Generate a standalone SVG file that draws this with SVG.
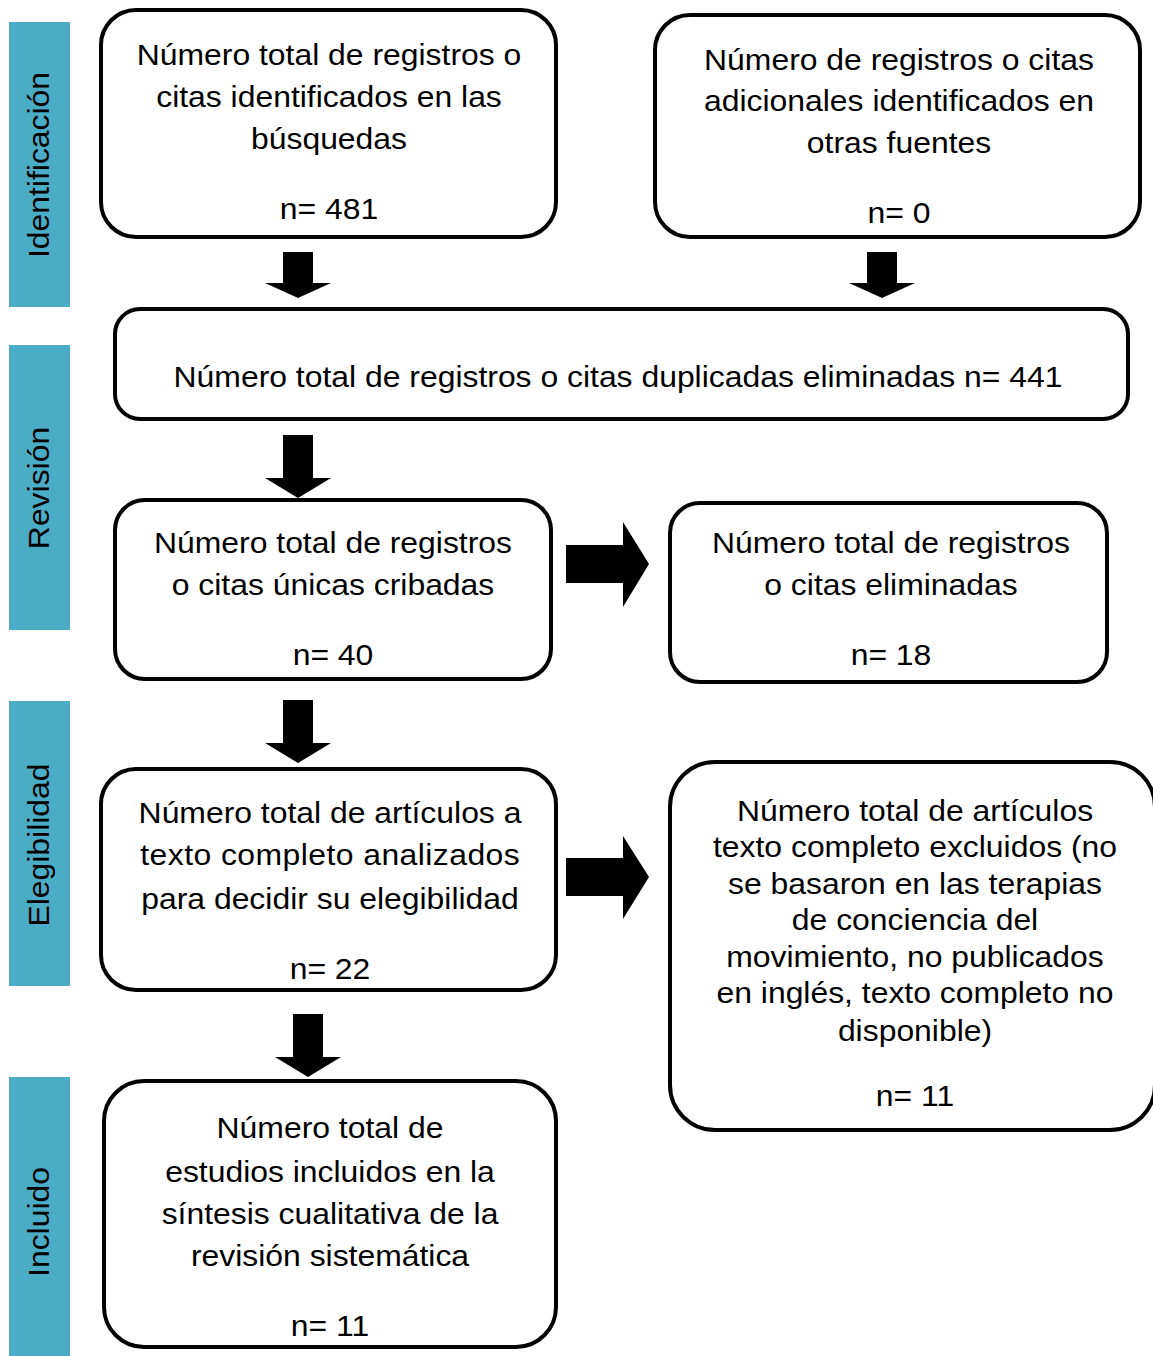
<svg xmlns="http://www.w3.org/2000/svg" width="1153" height="1356" viewBox="0 0 1153 1356">
<style>
.bar{fill:#4BACC6}
.box{fill:#fff;stroke:#000;stroke-width:4}
.t{font-family:"Liberation Sans",Arial,sans-serif;font-size:29px;fill:#000;text-anchor:middle}
.arr{fill:#000}
</style>
<rect width="1153" height="1356" fill="#fff"/>
<g id="phases">
<rect class="bar" x="9" y="22" width="61" height="285"/>
<rect class="bar" x="9" y="345" width="61" height="285"/>
<rect class="bar" x="9" y="701" width="61" height="285"/>
<rect class="bar" x="9" y="1077" width="61" height="279"/>
<text class="t" transform="translate(49,165) rotate(-90) scale(1.1,1)">Identificación</text>
<text class="t" transform="translate(49,488) rotate(-90) scale(1.1,1)">Revisión</text>
<text class="t" transform="translate(49,845) rotate(-90) scale(1.1,1)">Elegibilidad</text>
<text class="t" transform="translate(49,1222) rotate(-90) scale(1.1,1)">Incluido</text>
</g>
<g id="n1">
<rect class="box" x="101" y="10" width="455" height="227" rx="35"/>
<g transform="matrix(1.1 0 0 1 329 0)">
<text class="t" x="0" y="65">Número total de registros o</text>
<text class="t" x="0" y="107">citas identificados en las</text>
<text class="t" x="0" y="149">búsquedas</text>
<text class="t" x="0" y="219">n= 481</text>
</g>
</g>
<g id="n2">
<rect class="box" x="655" y="15" width="485" height="222" rx="35"/>
<g transform="matrix(1.1 0 0 1 899 0)">
<text class="t" x="0" y="70">Número de registros o citas</text>
<text class="t" x="0" y="111">adicionales identificados en</text>
<text class="t" x="0" y="153">otras fuentes</text>
<text class="t" x="0" y="223">n= 0</text>
</g>
</g>
<g id="n3">
<rect class="box" x="115" y="309" width="1013" height="110" rx="25"/>
<g transform="matrix(1.1 0 0 1 618 0)">
<text class="t" x="0" y="387">Número total de registros o citas duplicadas eliminadas n= 441</text>
</g>
</g>
<g id="n4">
<rect class="box" x="115" y="500" width="436" height="179" rx="30"/>
<g transform="matrix(1.1 0 0 1 333 0)">
<text class="t" x="0" y="553">Número total de registros</text>
<text class="t" x="0" y="595">o citas únicas cribadas</text>
<text class="t" x="0" y="665">n= 40</text>
</g>
</g>
<g id="n5">
<rect class="box" x="670" y="503" width="437" height="179" rx="30"/>
<g transform="matrix(1.1 0 0 1 891 0)">
<text class="t" x="0" y="553">Número total de registros</text>
<text class="t" x="0" y="595">o citas eliminadas</text>
<text class="t" x="0" y="665">n= 18</text>
</g>
</g>
<g id="n6">
<rect class="box" x="101" y="769" width="455" height="221" rx="35"/>
<g transform="matrix(1.1 0 0 1 330 0)">
<text class="t" x="0" y="823">Número total de artículos a</text>
<text class="t" x="0" y="865" textLength="345" lengthAdjust="spacing">texto  completo  analizados</text>
<text class="t" x="0" y="909">para decidir su elegibilidad</text>
<text class="t" x="0" y="979">n= 22</text>
</g>
</g>
<g id="n7">
<rect class="box" x="670" y="762" width="485" height="368" rx="45"/>
<g transform="matrix(1.1 0 0 1 915 0)">
<text class="t" x="0" y="821">Número total de artículos</text>
<text class="t" x="0" y="857">texto completo excluidos (no</text>
<text class="t" x="0" y="894">se basaron en las terapias</text>
<text class="t" x="0" y="930">de conciencia del</text>
<text class="t" x="0" y="967">movimiento, no publicados</text>
<text class="t" x="0" y="1003">en inglés, texto completo no</text>
<text class="t" x="0" y="1041">disponible)</text>
<text class="t" x="0" y="1106">n= 11</text>
</g>
</g>
<g id="n8">
<rect class="box" x="104" y="1081" width="452" height="266" rx="40"/>
<g transform="matrix(1.1 0 0 1 330 0)">
<text class="t" x="0" y="1138">Número total de</text>
<text class="t" x="0" y="1182">estudios incluidos en la</text>
<text class="t" x="0" y="1224">síntesis cualitativa de la</text>
<text class="t" x="0" y="1266">revisión sistemática</text>
<text class="t" x="0" y="1336">n= 11</text>
</g>
</g>
<g id="connectors">
<polygon class="arr" points="283,252 313,252 313,283 331,283 298,298 265,283 283,283"/>
<polygon class="arr" points="867,252 897,252 897,283 915,283 882,298 849,283 867,283"/>
<polygon class="arr" points="283,435 313,435 313,478 331,478 298,498 265,478 283,478"/>
<polygon class="arr" points="283,700 313,700 313,743 331,743 298,763 265,743 283,743"/>
<polygon class="arr" points="293,1014 323,1014 323,1057 341,1057 308,1077 275,1057 293,1057"/>
<polygon class="arr" points="566,545 623,545 623,522 649,564 623,607 623,583 566,583"/>
<polygon class="arr" points="566,858 623,858 623,836 649,877 623,919 623,896 566,896"/>
</g>
</svg>
